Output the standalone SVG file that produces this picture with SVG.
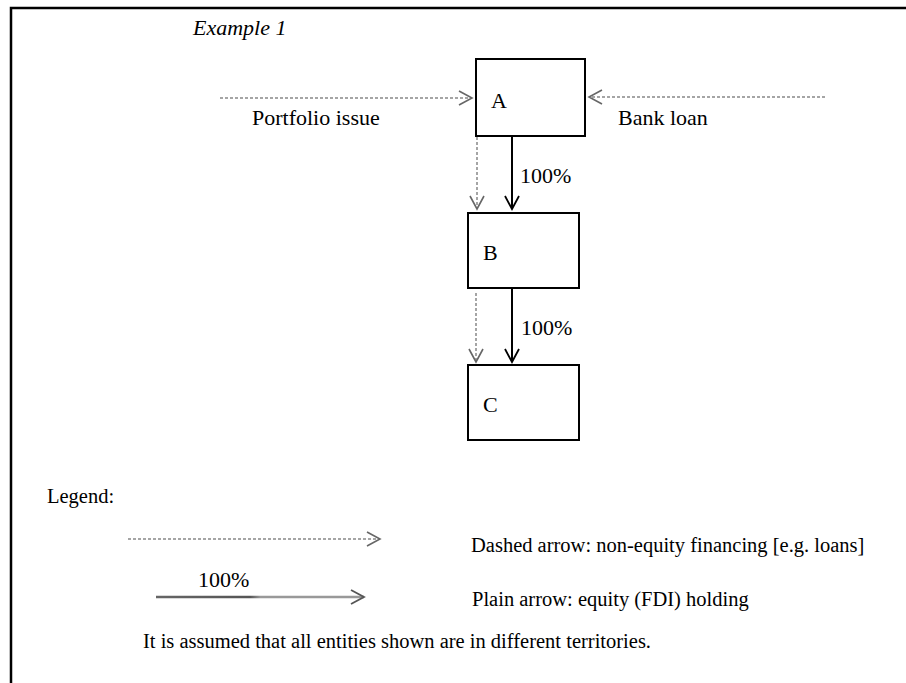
<svg xmlns="http://www.w3.org/2000/svg" width="906" height="683" viewBox="0 0 906 683">
  <style>
    text { font-family: "Liberation Serif", "Times New Roman", serif; fill: #000; }
    .lbl { font-size: 22px; }
    .leg { font-size: 20.5px; }
    .box { fill: #fff; stroke: #000; stroke-width: 2; }
    .solid { stroke: #000; stroke-width: 2; fill: none; }
    .dash { stroke: #888; stroke-width: 1.5; stroke-dasharray: 3 2; fill: none; }
    .frame { stroke: #000; stroke-width: 2.5; fill: none; }
  </style>
  <defs>
    <marker id="ahSolid" viewBox="-15 -10 17 20" refX="0" refY="0" markerWidth="17" markerHeight="20" markerUnits="userSpaceOnUse" orient="auto">
      <path d="M-13,-7 L0,0 L-13,7" fill="none" stroke="#000" stroke-width="1.8"/>
    </marker>
    <marker id="ahDash" viewBox="-15 -10 17 20" refX="0" refY="0" markerWidth="17" markerHeight="20" markerUnits="userSpaceOnUse" orient="auto">
      <path d="M-13,-7 L0,0 L-13,7" fill="none" stroke="#666" stroke-width="1.6"/>
    </marker>
    <marker id="ahGray" viewBox="-15 -10 17 20" refX="0" refY="0" markerWidth="17" markerHeight="20" markerUnits="userSpaceOnUse" orient="auto">
      <path d="M-13,-7 L0,0 L-13,7" fill="none" stroke="#555" stroke-width="1.8"/>
    </marker>
    <linearGradient id="grayLine" x1="156" y1="0" x2="365" y2="0" gradientUnits="userSpaceOnUse">
      <stop offset="0" stop-color="#666"/>
      <stop offset="0.45" stop-color="#555"/>
      <stop offset="0.5" stop-color="#999"/>
      <stop offset="1" stop-color="#999"/>
    </linearGradient>
  </defs>

  <!-- frame -->
  <path class="frame" d="M11,683 L11,8 L906,8"/>

  <text x="193" y="35" font-style="italic" class="lbl">Example 1</text>

  <!-- connectors -->
  <g id="connectors">
    <line class="dash" x1="220" y1="98" x2="472" y2="98" marker-end="url(#ahDash)"/>
    <line class="dash" x1="825" y1="97" x2="589" y2="97" marker-end="url(#ahDash)"/>
    <line class="solid" x1="512" y1="136" x2="512" y2="209" marker-end="url(#ahSolid)"/>
    <line class="dash" x1="477" y1="137" x2="477" y2="209" marker-end="url(#ahDash)"/>
    <line class="solid" x1="512" y1="288" x2="512" y2="362" marker-end="url(#ahSolid)"/>
    <line class="dash" x1="476" y1="293" x2="476" y2="362" marker-end="url(#ahDash)"/>
    <text x="252" y="125" class="lbl">Portfolio issue</text>
    <text x="618" y="125" class="lbl">Bank loan</text>
    <text x="520" y="183" class="lbl">100%</text>
    <text x="521" y="335" class="lbl">100%</text>
  </g>

  <g id="A">
    <rect class="box" x="476" y="59" width="109" height="77"/>
    <text x="491" y="108" class="lbl">A</text>
  </g>
  <g id="B">
    <rect class="box" x="468" y="213" width="111" height="75"/>
    <text x="483" y="260" class="lbl">B</text>
  </g>
  <g id="C">
    <rect class="box" x="468" y="365" width="111" height="75"/>
    <text x="483" y="412" class="lbl">C</text>
  </g>

  <!-- legend -->
  <g id="legend">
    <text x="47" y="503" class="leg">Legend:</text>
    <line class="dash" x1="128" y1="539" x2="380" y2="539" marker-end="url(#ahDash)"/>
    <text x="471" y="552" class="leg">Dashed arrow: non-equity financing [e.g. loans]</text>
    <text x="198" y="587" class="lbl">100%</text>
    <line x1="156" y1="597" x2="364" y2="597" stroke="url(#grayLine)" stroke-width="2.5" marker-end="url(#ahGray)"/>
    <text x="472" y="606" class="leg">Plain arrow: equity (FDI) holding</text>
    <text x="143" y="648" class="leg">It is assumed that all entities shown are in different territories.</text>
  </g>
</svg>
